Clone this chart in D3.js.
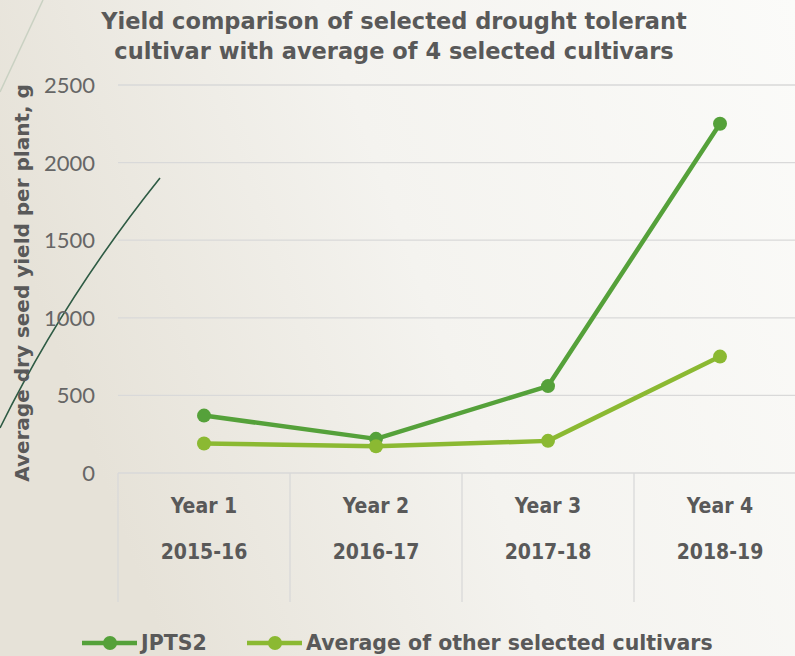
<!DOCTYPE html>
<html lang="en">
<head>
<meta charset="utf-8">
<script src="https://d3js.org/d3.v7.min.js"></script>
<style>
  html, body { margin: 0; padding: 0; overflow: hidden; }
  svg { display: block; }
</style>
<title>Yield comparison</title>
</head>
<body>
<script>
// chart data
var years = ["Year 1", "Year 2", "Year 3", "Year 4"];
var seasons = ["2015-16", "2016-17", "2017-18", "2018-19"];
var jpts2 = [370, 220, 560, 2250];
var otherAvg = [190, 172, 207, 750];
var yTicks = [0, 500, 1000, 1500, 2000, 2500];
var seriesNames = ["JPTS2", "Average of other selected cultivars"];
var seriesColors = ["#55A13A", "#8BB932"];

var width = 795, height = 656;
var plotLeft = 118, plotRight = 806, plotTop = 85, plotBase = 473;

var svg = d3.select("body").append("svg")
  .attr("width", width)
  .attr("height", height);

// background
var defs = svg.append("defs");
var bg = defs.append("linearGradient").attr("id", "bg")
  .attr("x1", "0").attr("y1", "0.3").attr("x2", "1").attr("y2", "0");
bg.append("stop").attr("offset", "0").attr("stop-color", "#E6E2D8");
bg.append("stop").attr("offset", "0.45").attr("stop-color", "#F4F3EF");
bg.append("stop").attr("offset", "1").attr("stop-color", "#FBFBF9");
svg.append("rect").attr("width", width).attr("height", height).attr("fill", "url(#bg)");

// decorative lines of the slide
svg.append("path").attr("d", "M43,0 L0,92")
  .attr("stroke", "#C9D1C2").attr("stroke-width", 1.5).attr("fill", "none");
svg.append("path").attr("d", "M160,178 Q64,298 0,428")
  .attr("stroke", "#2E5B44").attr("stroke-width", 1.6).attr("fill", "none");

var x = d3.scaleBand().domain(years).range([plotLeft, plotRight]);
var y = d3.scaleLinear().domain([0, 2500]).range([plotBase, plotTop]);

// gridlines
svg.append("g").selectAll("line")
  .data(yTicks)
  .join("line")
  .attr("x1", plotLeft).attr("x2", plotRight)
  .attr("y1", d => y(d)).attr("y2", d => y(d))
  .attr("stroke", "#D9D9D9").attr("stroke-width", 1.3);

// y tick labels
svg.append("g").selectAll("text")
  .data(yTicks)
  .join("text")
  .attr("x", 95).attr("y", d => y(d))
  .attr("dy", "0.36em")
  .attr("text-anchor", "end")
  .style("font-family", "Lato, sans-serif")
  .style("font-size", "22px")
  .style("fill", "#666666")
  .text(d => d);

// category box separators
var seps = x.domain().map(d => x(d)).concat([plotRight]);
svg.append("g").selectAll("line")
  .data(seps)
  .join("line")
  .attr("x1", d => d).attr("x2", d => d)
  .attr("y1", plotBase).attr("y2", 602)
  .attr("stroke", "#D9D9D9").attr("stroke-width", 1.3);

var catFont = "'DejaVu Sans Condensed', 'DejaVu Sans', sans-serif";
svg.append("g").selectAll("text")
  .data(years)
  .join("text")
  .attr("x", d => x(d) + x.bandwidth() / 2)
  .attr("y", 513)
  .attr("text-anchor", "middle")
  .style("font-family", catFont)
  .style("font-weight", "bold")
  .style("font-size", "21px")
  .style("fill", "#595959")
  .text(d => d);

svg.append("g").selectAll("text")
  .data(seasons)
  .join("text")
  .attr("x", (d, i) => x(years[i]) + x.bandwidth() / 2)
  .attr("y", 559)
  .attr("text-anchor", "middle")
  .style("font-family", catFont)
  .style("font-weight", "bold")
  .style("font-size", "21px")
  .style("fill", "#595959")
  .text(d => d);

// lines and markers
var line = d3.line()
  .x((d, i) => x(years[i]) + x.bandwidth() / 2)
  .y(d => y(d));

[jpts2, otherAvg].forEach(function(vals, k) {
  var g = svg.append("g");
  g.append("path")
    .attr("d", line(vals))
    .attr("fill", "none")
    .attr("stroke", seriesColors[k])
    .attr("stroke-width", 4.5)
    .attr("stroke-linejoin", "round");
  g.selectAll("circle")
    .data(vals)
    .join("circle")
    .attr("cx", (d, i) => x(years[i]) + x.bandwidth() / 2)
    .attr("cy", d => y(d))
    .attr("r", 7)
    .attr("fill", seriesColors[k]);
});

// title
var titleFont = "'DejaVu Sans', sans-serif";
var title = svg.append("text")
  .attr("text-anchor", "middle")
  .style("font-family", titleFont)
  .style("font-weight", "bold")
  .style("font-size", "22.5px")
  .style("fill", "#595959");
title.append("tspan").attr("x", 394).attr("y", 29)
  .text("Yield comparison of selected drought tolerant");
title.append("tspan").attr("x", 394).attr("y", 59)
  .text("cultivar with average of 4 selected cultivars");

// y axis title
svg.append("text")
  .attr("transform", "translate(29,283) rotate(-90)")
  .attr("text-anchor", "middle")
  .style("font-family", titleFont)
  .style("font-weight", "bold")
  .style("font-size", "20px")
  .style("fill", "#595959")
  .text("Average dry seed yield per plant, g");

// legend
var legendX = [82, 247];
var legend = svg.append("g").selectAll("g")
  .data(seriesNames)
  .join("g")
  .attr("transform", (d, i) => "translate(" + legendX[i] + ",643)");
legend.append("line")
  .attr("x1", 0).attr("x2", 55)
  .attr("stroke", (d, i) => seriesColors[i])
  .attr("stroke-width", 4.5);
legend.append("circle")
  .attr("cx", 28).attr("r", 7)
  .attr("fill", (d, i) => seriesColors[i]);
legend.append("text")
  .attr("x", 59).attr("dy", "0.36em")
  .style("font-family", titleFont)
  .style("font-weight", "bold")
  .style("font-size", "20.5px")
  .style("fill", "#595959")
  .text(d => d);
</script>
</body>
</html>
